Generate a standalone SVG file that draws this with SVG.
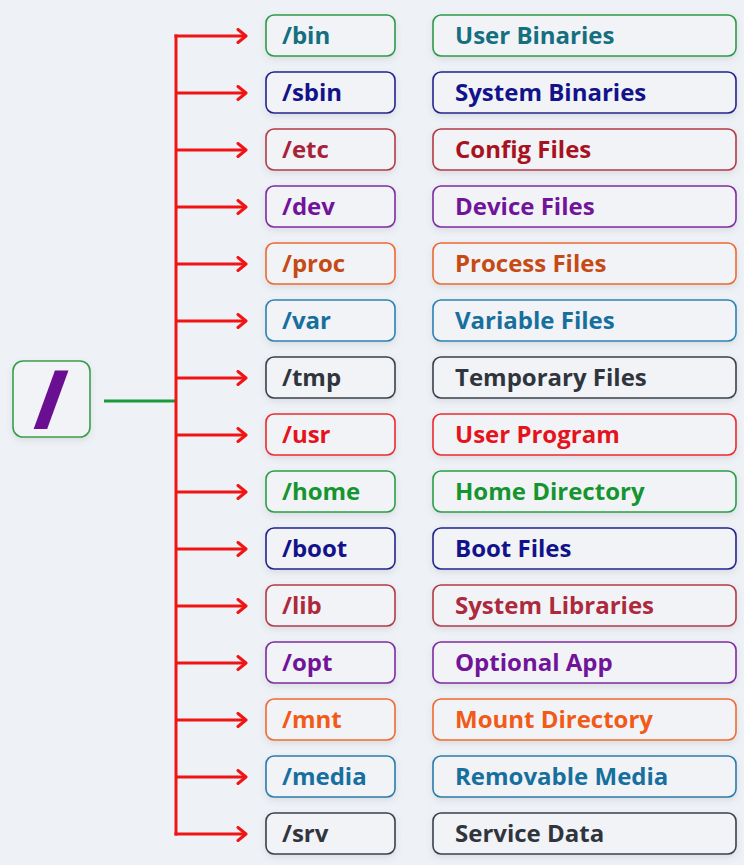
<svg xmlns="http://www.w3.org/2000/svg" width="744" height="865" viewBox="0 0 744 865">
  <defs>
    <filter id="soft" x="-10%" y="-20%" width="120%" height="160%">
      <feDropShadow dx="0" dy="3" stdDeviation="3" flood-color="#5a6478" flood-opacity="0.14"/>
    </filter>
    <marker id="head" viewBox="0 0 12 16" refX="10" refY="8" markerWidth="12" markerHeight="16" markerUnits="userSpaceOnUse" orient="auto">
      <path d="M2,1.5 L10,8 L2,14.5" fill="none" stroke="#f01414" stroke-width="3" stroke-linecap="round" stroke-linejoin="round"/>
    </marker>
  </defs>
  <style>
    .box { fill: #f1f3f7; stroke-width: 1.6; filter: url(#soft); }
    .lbl { font-family: "Open Sans", "Noto Sans", sans-serif; font-weight: 700; font-size: 24px; }
    .branch { fill: none; stroke: #f01414; stroke-width: 3; }
  </style>
  <rect width="744" height="865" fill="#eef1f5"/>

  <!-- connectors -->
  <g id="connectors">
    <line x1="104" y1="401" x2="176" y2="401" stroke="#1b9a3b" stroke-width="3"/>
    <line class="branch" x1="176" y1="34.5" x2="176" y2="835.5"/>
    <g marker-end="url(#head)">
      <path class="branch" d="M174.5,36 H246"/>
      <path class="branch" d="M176,93 H246"/>
      <path class="branch" d="M176,150 H246"/>
      <path class="branch" d="M176,207 H246"/>
      <path class="branch" d="M176,264 H246"/>
      <path class="branch" d="M176,321 H246"/>
      <path class="branch" d="M176,378 H246"/>
      <path class="branch" d="M176,435 H246"/>
      <path class="branch" d="M176,492 H246"/>
      <path class="branch" d="M176,549 H246"/>
      <path class="branch" d="M176,606 H246"/>
      <path class="branch" d="M176,663 H246"/>
      <path class="branch" d="M176,720 H246"/>
      <path class="branch" d="M176,777 H246"/>
      <path class="branch" d="M174.5,834 H246"/>
    </g>
  </g>

  <!-- root -->
  <g id="root">
    <rect class="box" x="13" y="361" width="77" height="76" rx="10" stroke="#3a9e4a"/>
    <text x="51" y="428" text-anchor="middle" font-family="'Open Sans', sans-serif" font-weight="800" font-size="80" fill="#6a0f92">/</text>
  </g>

  <g id="n-bin">
    <rect class="box" x="266" y="15" width="129" height="41" rx="8" stroke="#2e9a48"/>
    <text class="lbl" x="282" y="44" fill="#146f7f">/bin</text>
    <rect class="box" x="433" y="15" width="303" height="41" rx="8" stroke="#2e9a48"/>
    <text class="lbl" x="455" y="44" fill="#146f7f">User Binaries</text>
  </g>
  <g id="n-sbin">
    <rect class="box" x="266" y="72" width="129" height="41" rx="8" stroke="#23238f"/>
    <text class="lbl" x="282" y="101" fill="#12128a">/sbin</text>
    <rect class="box" x="433" y="72" width="303" height="41" rx="8" stroke="#23238f"/>
    <text class="lbl" x="455" y="101" fill="#12128a">System Binaries</text>
  </g>
  <g id="n-etc">
    <rect class="box" x="266" y="129" width="129" height="41" rx="8" stroke="#b33a48"/>
    <text class="lbl" x="282" y="158" fill="#a8233a">/etc</text>
    <rect class="box" x="433" y="129" width="303" height="41" rx="8" stroke="#b33a48"/>
    <text class="lbl" x="455" y="158" fill="#a8121e">Config Files</text>
  </g>
  <g id="n-dev">
    <rect class="box" x="266" y="186" width="129" height="41" rx="8" stroke="#7e2aa2"/>
    <text class="lbl" x="282" y="215" fill="#72149a">/dev</text>
    <rect class="box" x="433" y="186" width="303" height="41" rx="8" stroke="#7e2aa2"/>
    <text class="lbl" x="455" y="215" fill="#72149a">Device Files</text>
  </g>
  <g id="n-proc">
    <rect class="box" x="266" y="243" width="129" height="41" rx="8" stroke="#ec6a30"/>
    <text class="lbl" x="282" y="272" fill="#c64a14">/proc</text>
    <rect class="box" x="433" y="243" width="303" height="41" rx="8" stroke="#ec6a30"/>
    <text class="lbl" x="455" y="272" fill="#c64a14">Process Files</text>
  </g>
  <g id="n-var">
    <rect class="box" x="266" y="300" width="129" height="41" rx="8" stroke="#2c82b2"/>
    <text class="lbl" x="282" y="329" fill="#176f9e">/var</text>
    <rect class="box" x="433" y="300" width="303" height="41" rx="8" stroke="#2c82b2"/>
    <text class="lbl" x="455" y="329" fill="#176f9e">Variable Files</text>
  </g>
  <g id="n-tmp">
    <rect class="box" x="266" y="357" width="129" height="41" rx="8" stroke="#3b414b"/>
    <text class="lbl" x="282" y="386" fill="#30353d">/tmp</text>
    <rect class="box" x="433" y="357" width="303" height="41" rx="8" stroke="#3b414b"/>
    <text class="lbl" x="455" y="386" fill="#30353d">Temporary Files</text>
  </g>
  <g id="n-usr">
    <rect class="box" x="266" y="414" width="129" height="41" rx="8" stroke="#ec2a2e"/>
    <text class="lbl" x="282" y="443" fill="#e5141c">/usr</text>
    <rect class="box" x="433" y="414" width="303" height="41" rx="8" stroke="#ec2a2e"/>
    <text class="lbl" x="455" y="443" fill="#e5141c">User Program</text>
  </g>
  <g id="n-home">
    <rect class="box" x="266" y="471" width="129" height="41" rx="8" stroke="#2a9e46"/>
    <text class="lbl" x="282" y="500" fill="#16952f">/home</text>
    <rect class="box" x="433" y="471" width="303" height="41" rx="8" stroke="#2a9e46"/>
    <text class="lbl" x="455" y="500" fill="#16952f">Home Directory</text>
  </g>
  <g id="n-boot">
    <rect class="box" x="266" y="528" width="129" height="41" rx="8" stroke="#23238f"/>
    <text class="lbl" x="282" y="557" fill="#12128a">/boot</text>
    <rect class="box" x="433" y="528" width="303" height="41" rx="8" stroke="#23238f"/>
    <text class="lbl" x="455" y="557" fill="#12128a">Boot Files</text>
  </g>
  <g id="n-lib">
    <rect class="box" x="266" y="585" width="129" height="41" rx="8" stroke="#b33a48"/>
    <text class="lbl" x="282" y="614" fill="#ad2a3c">/lib</text>
    <rect class="box" x="433" y="585" width="303" height="41" rx="8" stroke="#b33a48"/>
    <text class="lbl" x="455" y="614" fill="#ad2a3c">System Libraries</text>
  </g>
  <g id="n-opt">
    <rect class="box" x="266" y="642" width="129" height="41" rx="8" stroke="#7e2aa2"/>
    <text class="lbl" x="282" y="671" fill="#72149a">/opt</text>
    <rect class="box" x="433" y="642" width="303" height="41" rx="8" stroke="#7e2aa2"/>
    <text class="lbl" x="455" y="671" fill="#72149a">Optional App</text>
  </g>
  <g id="n-mnt">
    <rect class="box" x="266" y="699" width="129" height="41" rx="8" stroke="#f06a30"/>
    <text class="lbl" x="282" y="728" fill="#f25a18">/mnt</text>
    <rect class="box" x="433" y="699" width="303" height="41" rx="8" stroke="#f06a30"/>
    <text class="lbl" x="455" y="728" fill="#f25a18">Mount Directory</text>
  </g>
  <g id="n-media">
    <rect class="box" x="266" y="756" width="129" height="41" rx="8" stroke="#2a7ca8"/>
    <text class="lbl" x="282" y="785" fill="#176f9e">/media</text>
    <rect class="box" x="433" y="756" width="303" height="41" rx="8" stroke="#2a7ca8"/>
    <text class="lbl" x="455" y="785" fill="#176f9e">Removable Media</text>
  </g>
  <g id="n-srv">
    <rect class="box" x="266" y="813" width="129" height="41" rx="8" stroke="#3b414b"/>
    <text class="lbl" x="282" y="842" fill="#30353d">/srv</text>
    <rect class="box" x="433" y="813" width="303" height="41" rx="8" stroke="#3b414b"/>
    <text class="lbl" x="455" y="842" fill="#30353d">Service Data</text>
  </g>
</svg>
